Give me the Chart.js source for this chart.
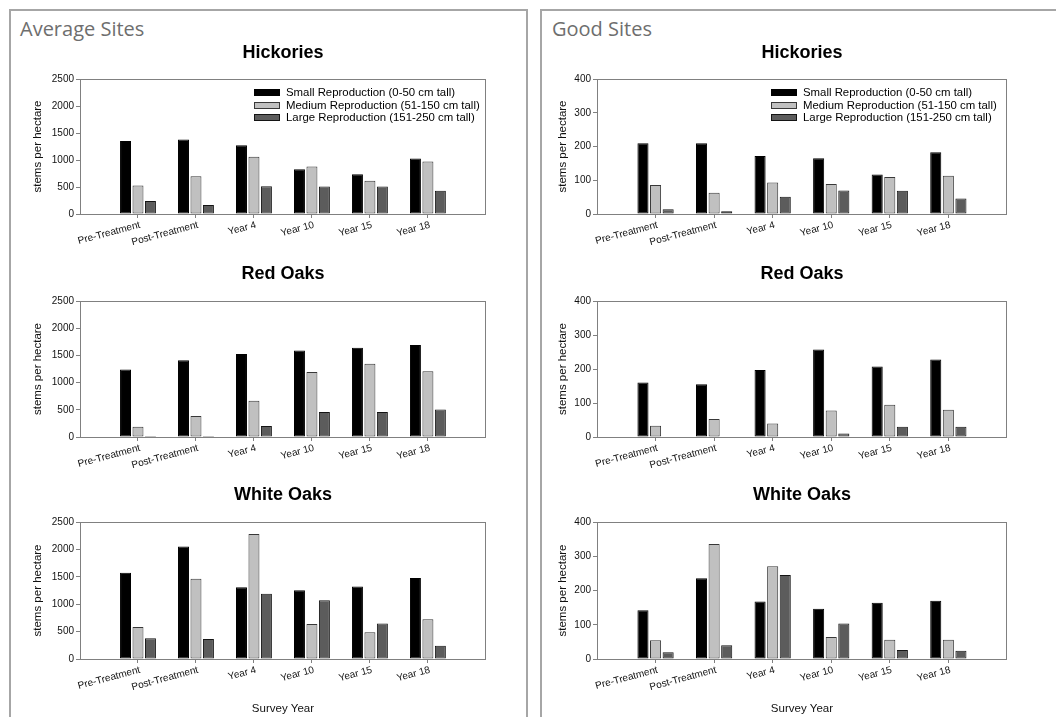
<!DOCTYPE html>
<html><head><meta charset="utf-8">
<script src="https://cdn.jsdelivr.net/npm/chart.js@4.4.1/dist/chart.umd.min.js"></script>
<style>
html,body{margin:0;padding:0;background:#fff;width:1056px;height:717px;overflow:hidden;position:relative;}
.panel{position:absolute;top:9px;border:2px solid #a6a6a6;border-bottom:none;box-sizing:border-box;height:730px;}
.ptitle{position:absolute;top:16px;font-family:"Open Sans",Lato,sans-serif;font-size:20px;color:#6e6e6e;line-height:26px;}
canvas{position:absolute;}
</style></head>
<body>
<div class="panel" style="left:9px;width:519px"></div>
<div class="panel" style="left:540px;width:540px"></div>
<div class="ptitle" style="left:20px">Average Sites</div>
<div class="ptitle" style="left:552px">Good Sites</div>
<canvas id="c1"></canvas><canvas id="c2"></canvas><canvas id="c3"></canvas>
<canvas id="c4"></canvas><canvas id="c5"></canvas><canvas id="c6"></canvas>
<script>
// ---------- data ----------
const categories = ['Pre-Treatment','Post-Treatment','Year 4','Year 10','Year 15','Year 18'];
const seriesNames = ['Small Reproduction (0-50 cm tall)','Medium Reproduction (51-150 cm tall)','Large Reproduction (151-250 cm tall)'];
const chartTitles = ['Hickories','Red Oaks','White Oaks'];
const yAxisTitle = 'stems per hectare';
const xAxisTitle = 'Survey Year';

const avgHickSmall   = [1350,1380,1275,830,735,1030];
const avgHickMedium  = [530,700,1060,880,615,970];
const avgHickLarge   = [240,168,515,510,510,430];
const avgRedSmall    = [1240,1410,1525,1590,1640,1690];
const avgRedMedium   = [190,385,665,1195,1345,1210];
const avgRedLarge    = [18,18,200,460,460,505];
const avgWhiteSmall  = [1575,2055,1310,1255,1325,1480];
const avgWhiteMedium = [585,1465,2280,640,490,725];
const avgWhiteLarge  = [380,365,1190,1070,648,240];

const goodHickSmall   = [210,210,172,165,117,183];
const goodHickMedium  = [86,63,93,89,110,113];
const goodHickLarge   = [14,8,51,70,69,46];
const goodRedSmall    = [160,155,197,257,207,228];
const goodRedMedium   = [33,53,40,78,95,80];
const goodRedLarge    = [0,0,0,10,30,30];
const goodWhiteSmall  = [142,236,168,147,164,170];
const goodWhiteMedium = [55,336,271,64,56,56];
const goodWhiteLarge  = [20,40,245,104,26,24];

const avgTicks  = [0,500,1000,1500,2000,2500];
const goodTicks = [0,100,200,300,400];

// ---------- styling / layout ----------
const FONT = "'Liberation Sans', Arial, Helvetica, sans-serif";
Chart.defaults.font.family = FONT;
Chart.defaults.color = '#111';
const fills   = ['#000000','#c0c0c0','#5c5c5c'];
const borders = ['#000000','#383838','#141414'];
const frameColor = '#808080';

const cols = [
  {canvasLeft:31,  plotLeft:80,  plotRight:487},
  {canvasLeft:556, plotLeft:597, plotRight:1008}
];
const rows = [
  {canvasTop:38,  titleY:53.5,  plotTop:79,  plotBottom:214, canvasBottom:256},
  {canvasTop:258, titleY:274.5, plotTop:301, plotBottom:437, canvasBottom:478},
  {canvasTop:480, titleY:495.5, plotTop:522, plotBottom:659, canvasBottom:718}
];
const PAD_R = 3;
const TITLE_SIZE = 18, TITLE_LH = TITLE_SIZE*1.2;

const insideLegend = {
  id:'insideLegend',
  afterDraw(chart, args, opts){
    if(!opts || !opts.display) return;
    const {ctx, chartArea} = chart;
    ctx.save();
    ctx.font = opts.size + 'px ' + FONT;
    ctx.textBaseline = 'middle';
    ctx.textAlign = 'left';
    chart.data.datasets.forEach((ds,i)=>{
      const x = Math.round(chartArea.left + opts.dx);
      const y = Math.round(chartArea.top + opts.dy + i*opts.rowH);
      ctx.fillStyle = ds.backgroundColor;
      ctx.fillRect(x, y-3, 25, 6);
      ctx.strokeStyle = ds.borderColor; ctx.lineWidth = 1;
      ctx.strokeRect(x+0.5, y-3+0.5, 25, 6);
      ctx.fillStyle = '#000';
      ctx.fillText(ds.label, x+32, y+0.5);
    });
    ctx.restore();
  }
};

function makeChart(id, col, row, series, ticks, showLegend, titleText, showXTitle){
  const c = cols[col], r = rows[row];
  const canvas = document.getElementById(id);
  const w = c.plotRight + PAD_R - c.canvasLeft;
  const h = r.canvasBottom - r.canvasTop;
  canvas.width = w; canvas.height = h;
  canvas.style.left = c.canvasLeft + 'px';
  canvas.style.top = r.canvasTop + 'px';
  canvas.style.width = w + 'px'; canvas.style.height = h + 'px';
  const padTop = r.titleY - r.canvasTop - TITLE_LH/2;
  const padBottom = r.plotTop - r.canvasTop - padTop - TITLE_LH;
  const yW = c.plotLeft - c.canvasLeft;
  const xH = r.canvasBottom - r.plotBottom;
  const labels = ['', ...categories, ''];
  const n = labels.length;
  new Chart(canvas, {
    type:'bar',
    data:{
      labels,
      datasets: series.map((vals,i)=>({
        label: seriesNames[i],
        data: [null, ...vals, null],
        backgroundColor: fills[i],
        borderColor: borders[i],
        borderWidth: 1,
        borderSkipped: false,
        categoryPercentage: 0.645,
        barPercentage: 0.88
      }))
    },
    options:{
      responsive:false,
      animation:false,
      devicePixelRatio:1,
      layout:{padding:{left:0,right:PAD_R,top:0,bottom:0}},
      plugins:{
        legend:{display:false},
        tooltip:{enabled:false},
        title:{display:true, text:titleText, fullSize:false, color:'#000',
               font:{size:TITLE_SIZE, weight:'bold', lineHeight:1.2},
               padding:{top:padTop, bottom:padBottom}},
        insideLegend:{display:showLegend, dx:174, dy:13, rowH:12.5, size:11.4}
      },
      scales:{
        x:{
          type:'category', offset:false,
          grid:{display:true, drawOnChartArea:false, drawTicks:true, tickLength:4, offset:false,
                color:(ctx)=> (ctx.index===0||ctx.index===n-1)?'rgba(0,0,0,0)':frameColor},
          border:{display:true, color:frameColor, width:1},
          ticks:{autoSkip:false, minRotation:15, maxRotation:15, padding:1, labelOffset:2, color:'#111', font:{size:10}},
          title:{display:showXTitle, text:xAxisTitle, color:'#111', font:{size:11.5}, padding:{top:0,bottom:2}},
          afterFit:(s)=>{ s.height = xH; }
        },
        y:{
          type:'linear', min:ticks[0], max:ticks[ticks.length-1],
          afterBuildTicks:(s)=>{ s.ticks = ticks.map(v=>({value:v})); },
          grid:{display:true, drawOnChartArea:false, drawTicks:true, tickLength:4, color:frameColor},
          border:{display:true, color:frameColor, width:1},
          ticks:{padding:2, color:'#111', font:{size:10}, callback:(v)=>String(v)},
          title:{display:true, text:yAxisTitle, color:'#111', font:{size:11.5}, padding:{top:0,bottom:0}},
          afterFit:(s)=>{ s.width = yW; }
        },
        xTop:{
          type:'linear', position:'top', display:true,
          grid:{display:false, drawTicks:false}, ticks:{display:false},
          border:{display:true, color:frameColor, width:1},
          afterFit:(s)=>{ s.height = 0; }
        },
        yRight:{
          type:'linear', position:'right', display:true,
          grid:{display:false, drawTicks:false}, ticks:{display:false},
          border:{display:true, color:frameColor, width:1},
          afterFit:(s)=>{ s.width = 0; }
        }
      }
    },
    plugins:[insideLegend]
  });
}

makeChart('c1', 0, 0, [avgHickSmall, avgHickMedium, avgHickLarge], avgTicks, true,  chartTitles[0], false);
makeChart('c2', 0, 1, [avgRedSmall, avgRedMedium, avgRedLarge], avgTicks, false, chartTitles[1], false);
makeChart('c3', 0, 2, [avgWhiteSmall, avgWhiteMedium, avgWhiteLarge], avgTicks, false, chartTitles[2], true);
makeChart('c4', 1, 0, [goodHickSmall, goodHickMedium, goodHickLarge], goodTicks, true,  chartTitles[0], false);
makeChart('c5', 1, 1, [goodRedSmall, goodRedMedium, goodRedLarge], goodTicks, false, chartTitles[1], false);
makeChart('c6', 1, 2, [goodWhiteSmall, goodWhiteMedium, goodWhiteLarge], goodTicks, false, chartTitles[2], true);
</script>
</body></html>
